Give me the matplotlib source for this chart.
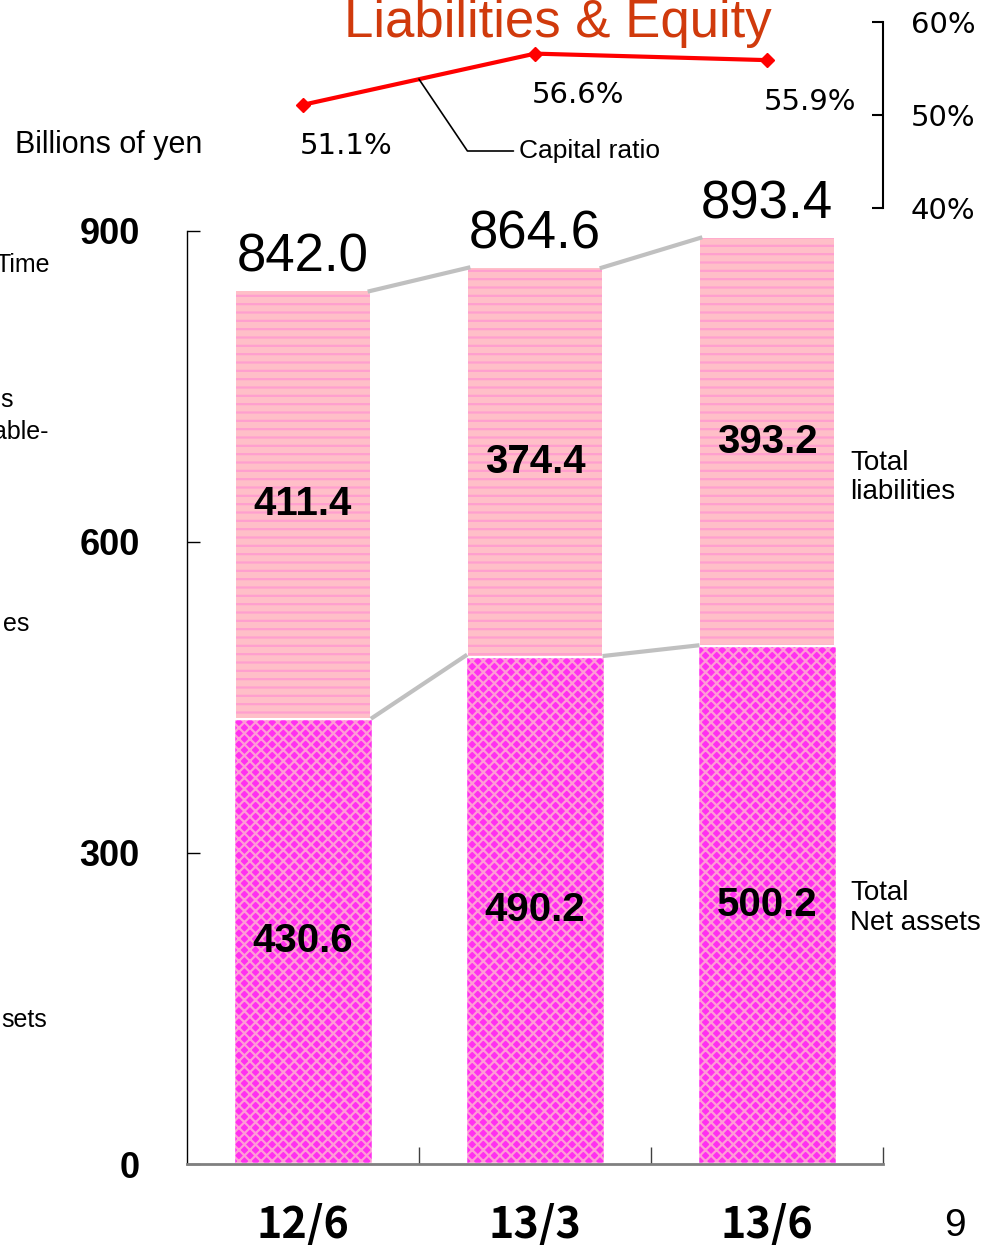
import numpy as np
import matplotlib.pyplot as plt

plt.rcParams['font.family'] = ['Liberation Sans', 'DejaVu Sans']
plt.rcParams['hatch.linewidth'] = 1.6

periods = ['12/6', '13/3', '13/6']
net_assets = [430.6, 490.2, 500.2]
liabilities = [411.4, 374.4, 393.2]
totals = [842.0, 864.6, 893.4]
capital_ratio = [51.1, 56.6, 55.9]
yticks = [0, 300, 600, 900]
rticks = [40, 50, 60]
side_fragments = [('Time', 50, 265), ('s', 13, 400), ('able-', 48, 432),
                  ('es', 29, 624), ('sets', 47, 1020)]

W, H = 992, 1245


def px(x, y):
    return x / W, 1 - y / H


fig = plt.figure(figsize=(W / 100, H / 100), dpi=100)
ax = fig.add_axes([187 / W, 81 / H, 696 / W, 933 / H])
ax2 = fig.add_axes([187 / W, (H - 208) / H, 696 / W, 186 / H])

x = np.arange(len(periods))
w_net = 0.6
w_liab = 0.575

# stacked bars
ax.bar(x, net_assets, w_net, color='#FF30F0', edgecolor='#FF9CD6',
       hatch='xxx', linewidth=0)
ax.bar(x, net_assets, w_net, fill=False, edgecolor='white', linewidth=2.5)
ax.bar(x, liabilities, w_liab, bottom=net_assets, color='#FFBFC8',
       edgecolor='#FF9FCF', hatch='--', linewidth=0)

# grey connectors between bars
for i in range(len(x) - 1):
    ax.plot([x[i] + w_liab / 2, x[i + 1] - w_liab / 2], [totals[i], totals[i + 1]],
            color='#C0C0C0', lw=3, clip_on=False, zorder=1)
    ax.plot([x[i] + w_net / 2, x[i + 1] - w_net / 2], [net_assets[i], net_assets[i + 1]],
            color='#C0C0C0', lw=3, clip_on=False, zorder=1)

for i in range(len(x)):
    ax.text(x[i], net_assets[i] / 2, f'{net_assets[i]:.1f}', ha='center', va='center',
            fontsize=29, fontweight='bold')
    ax.text(x[i], net_assets[i] + liabilities[i] / 2, f'{liabilities[i]:.1f}',
            ha='center', va='center', fontsize=29, fontweight='bold')
    ax.annotate(f'{totals[i]:.1f}', (x[i], totals[i]), xytext=(0, 6),
                textcoords='offset points', ha='center', va='bottom', fontsize=38)

ax.set_xlim(-0.5, 2.5)
ax.set_ylim(0, 900)
ax.set_yticks(yticks)
ax.set_yticklabels([str(v) for v in yticks], fontsize=26, fontweight='bold')
ax.tick_params(axis='y', direction='in', length=9, width=1, pad=34)
ax.set_xticks(x)
ax.set_xticklabels(periods, family='Noto Sans CJK JP', fontsize=31, fontweight='bold')
ax.tick_params(axis='x', length=0, pad=28)
ax.set_xticks([0.5, 1.5, 2.5], minor=True)
ax.tick_params(axis='x', which='minor', direction='in', length=12, width=1, color='#404040')
ax.spines['top'].set_visible(False)
ax.spines['right'].set_visible(False)
ax.spines['bottom'].set_color('#808080')
ax.spines['bottom'].set_linewidth(2)
ax.spines['left'].set_linewidth(1)

# capital ratio line
ax2.plot(x, capital_ratio, color='#FF0000', lw=3, marker='D', markersize=7)
for i in range(len(x)):
    ax2.annotate(f'{capital_ratio[i]:.1f}%', (x[i], capital_ratio[i]), xytext=(31, -30),
                 textcoords='offset points', ha='center', va='center',
                 fontsize=21, family='DejaVu Sans')
ax2.set_xlim(-0.5, 2.5)
ax2.set_ylim(40, 60)
ax2.set_xticks([])
ax2.yaxis.tick_right()
ax2.set_yticks(rticks)
ax2.set_yticklabels([f'{v}%' for v in rticks], family='DejaVu Sans', fontsize=21)
ax2.tick_params(axis='y', direction='in', length=8, width=1.5, pad=20)
for s in ['top', 'left', 'bottom']:
    ax2.spines[s].set_visible(False)
ax2.spines['right'].set_linewidth(1.5)
ax2.patch.set_alpha(0)

ax2.annotate('Capital ratio', xy=(0.5, (capital_ratio[0] + capital_ratio[1]) / 2),
             xytext=px(519, 151), textcoords='figure fraction', ha='left', va='center',
             fontsize=19,
             arrowprops=dict(arrowstyle='-', color='black', lw=1.2, shrinkA=2, shrinkB=0,
                             connectionstyle='angle,angleA=180,angleB=-56,rad=0'))

# texts
fig.text(*px(558, 37), 'Liabilities & Equity', ha='center', va='baseline',
         fontsize=38, color='#D03A0C')
fig.text(*px(15, 145), 'Billions of yen', ha='left', va='center', fontsize=22)
fig.text(*px(850, 478), 'Total\nliabilities', ha='left', va='center', fontsize=20,
         linespacing=1.15)
fig.text(*px(850, 908), 'Total\nNet assets', ha='left', va='center', fontsize=20,
         linespacing=1.15)
fig.text(*px(955, 1226), '9', ha='center', va='center', fontsize=28)
for label, xr, yc in side_fragments:
    fig.text(*px(xr, yc), label, ha='right', va='center', fontsize=18)

fig.savefig('out.png', dpi=100)
